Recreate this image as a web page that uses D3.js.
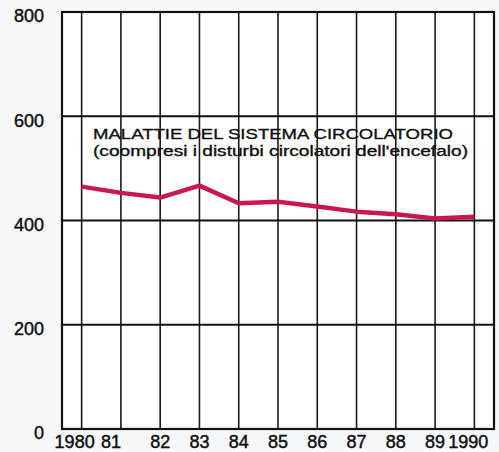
<!DOCTYPE html>
<html>
<head>
<meta charset="utf-8">
<script src="https://cdn.jsdelivr.net/npm/d3@7"></script>
<style>
  body { margin: 0; background: #f6f8fa; }
  text { font-family: "Liberation Sans", Arial, sans-serif; fill: #111; stroke: #111; stroke-width: 0.45px; }
</style>
</head>
<body>
<svg id="chart" width="499" height="452"></svg>
<script>
// data
const years = [1980, 1981, 1982, 1983, 1984, 1985, 1986, 1987, 1988, 1989, 1990]
const yearLabels = ["1980", "81", "82", "83", "84", "85", "86", "87", "88", "89", "1990"]
const deaths = [465, 453, 444, 467, 433, 436, 427, 417, 412, 404, 407]
const yTicks = [0, 200, 400, 600, 800]
const titleLines = ["MALATTIE DEL SISTEMA CIRCOLATORIO", "(coompresi i disturbi circolatori dell'encefalo)"]

const svg = d3.select("#chart")
const plotLeft = 62, plotRight = 494, plotTop = 12, plotBottom = 429

const x = d3.scaleLinear().domain([1979.5, 1990.5]).range([plotLeft, plotRight])
const y = d3.scaleLinear().domain([0, 800]).range([plotBottom, plotTop])

// plot background
svg.append("rect")
  .attr("x", plotLeft).attr("y", plotTop)
  .attr("width", plotRight - plotLeft).attr("height", plotBottom - plotTop)
  .attr("fill", "#fff")

// vertical lines
svg.append("g")
  .selectAll("line")
  .data(years)
  .enter()
  .append("line")
    .attr("x1", d => x(d)).attr("x2", d => x(d))
    .attr("y1", plotTop).attr("y2", plotBottom)
    .attr("stroke", "#1a1a1a")
    .attr("stroke-width", 1.6)

// horizontal grid
svg.append("g")
  .selectAll("line")
  .data(yTicks)
  .enter()
  .append("line")
    .attr("x1", plotLeft).attr("x2", plotRight)
    .attr("y1", d => y(d)).attr("y2", d => y(d))
    .attr("stroke", "#111")
    .attr("stroke-width", 1.8)

// frame
svg.append("rect")
  .attr("x", plotLeft).attr("y", plotTop)
  .attr("width", plotRight - plotLeft).attr("height", plotBottom - plotTop)
  .attr("fill", "none")
  .attr("stroke", "#111")
  .attr("stroke-width", 2.2)

// y labels
svg.append("g")
  .selectAll("text")
  .data(yTicks)
  .enter()
  .append("text")
    .attr("x", 44)
    .attr("y", d => y(d) + 4)
    .attr("dy", "0.35em")
    .attr("text-anchor", "end")
    .attr("font-size", "18px")
    .text(d => d)

// x labels
svg.append("g")
  .selectAll("text")
  .data(years)
  .enter()
  .append("text")
    .attr("x", (d, i) => x(d) + (i == 0 ? -7 : i == 1 ? -10 : i == years.length - 1 ? -6 : 0))
    .attr("y", 448)
    .attr("text-anchor", "middle")
    .attr("font-size", "18px")
    .text((d, i) => yearLabels[i])

// title
svg.append("text")
  .attr("x", 93).attr("y", 139)
  .attr("font-size", "15px")
  .attr("textLength", 360)
  .attr("lengthAdjust", "spacingAndGlyphs")
  .style("stroke-width", "0.35px")
  .text(titleLines[0])
svg.append("text")
  .attr("x", 93).attr("y", 156)
  .attr("font-size", "14px")
  .attr("textLength", 375)
  .attr("lengthAdjust", "spacingAndGlyphs")
  .style("stroke-width", "0.35px")
  .text(titleLines[1])

// data line
const line = d3.line()
  .x((d, i) => x(years[i]))
  .y(d => y(d))

svg.append("path")
  .datum(deaths)
  .attr("d", line)
  .attr("fill", "none")
  .attr("stroke", "#c8184f")
  .attr("stroke-width", 4.5)
  .attr("stroke-linejoin", "round")
</script>
</body>
</html>
